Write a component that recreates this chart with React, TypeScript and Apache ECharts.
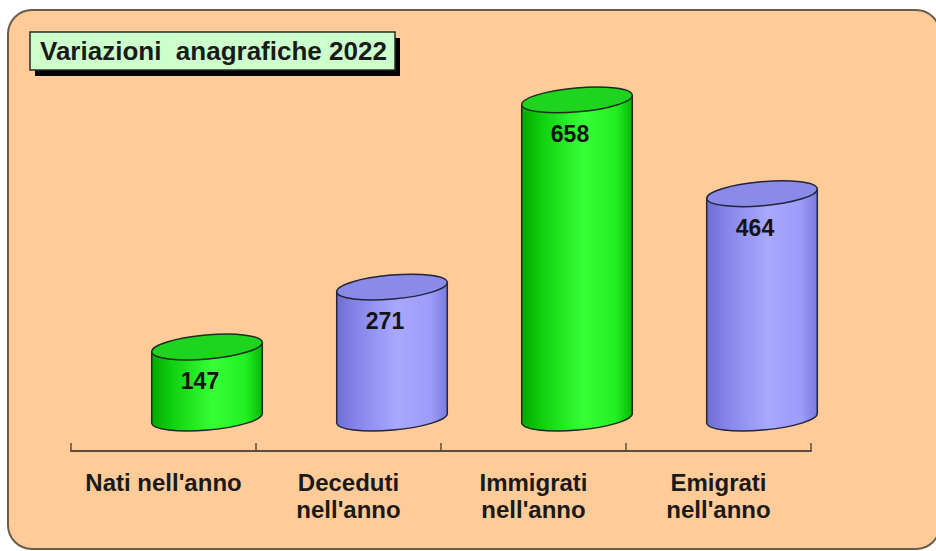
import React, { useEffect, useRef } from "react";
import * as echarts from "echarts";

const categories = ["Nati nell'anno", "Deceduti\nnell'anno", "Immigrati\nnell'anno", "Emigrati\nnell'anno"];
const values = [147, 271, 658, 464];
const kinds = ["green", "blue", "green", "blue"];
const titleText = "Variazioni  anagrafiche 2022";

const FONT = '"Liberation Sans", Arial, sans-serif';

const palettes: Record<string, { body: [number, string][]; top: string; stroke: string }> = {
  green: {
    body: [
      [0, "#00A800"],
      [0.18, "#10D010"],
      [0.55, "#36FF36"],
      [0.85, "#22F022"],
      [1, "#06B806"],
    ],
    top: "#1ED41E",
    stroke: "#1d2b1d",
  },
  blue: {
    body: [
      [0, "#6E6ED2"],
      [0.18, "#8686EA"],
      [0.55, "#A8A8FF"],
      [0.85, "#9C9CFA"],
      [1, "#7A7ADE"],
    ],
    top: "#8A8AE8",
    stroke: "#23233a",
  },
};

export default function App() {
  const ref = useRef<HTMLDivElement>(null);
  useEffect(() => {
    const chart = echarts.init(ref.current!, null, { renderer: "svg" });
    const OFFSET_X = 43.5;
    const RX = 55.5;
    const RY = 12;
    const TILT = (5 * Math.PI) / 180;

    const renderItem = (params: any, api: any) => {
      const i = api.value(0);
      const v = api.value(1);
      const top = api.coord([i, v]);
      const bot = api.coord([i, 0]);
      const cx = top[0] + OFFSET_X;
      const ty = top[1];
      const by = bot[1];
      const dx = RX * Math.cos(TILT);
      const dy = RX * Math.sin(TILT);
      const pal = palettes[kinds[i]];
      const grad = () =>
        new echarts.graphic.LinearGradient(
          0,
          0,
          1,
          0,
          pal.body.map(([o, c]) => ({ offset: o, color: c }))
        );
      return {
        type: "group",
        children: [
          {
            type: "ellipse",
            x: cx,
            y: by,
            rotation: TILT,
            shape: { cx: 0, cy: 0, rx: RX, ry: RY },
            style: { fill: grad(), stroke: pal.stroke, lineWidth: 1.5 },
          },
          {
            type: "polygon",
            shape: {
              points: [
                [cx - dx, ty + dy],
                [cx + dx, ty - dy],
                [cx + dx, by - dy],
                [cx - dx, by + dy],
              ],
            },
            style: { fill: grad() },
          },
          {
            type: "line",
            shape: { x1: cx - dx, y1: ty + dy, x2: cx - dx, y2: by + dy },
            style: { stroke: pal.stroke, lineWidth: 1.5 },
          },
          {
            type: "line",
            shape: { x1: cx + dx, y1: ty - dy, x2: cx + dx, y2: by - dy },
            style: { stroke: pal.stroke, lineWidth: 1.5 },
          },
          {
            type: "ellipse",
            x: cx,
            y: ty,
            rotation: TILT,
            shape: { cx: 0, cy: 0, rx: RX, ry: RY },
            style: { fill: pal.top, stroke: pal.stroke, lineWidth: 1.5 },
          },
          {
            type: "text",
            x: cx - 7,
            y: ty + 34,
            style: {
              text: String(v),
              fill: "#141414",
              font: `bold 23px ${FONT}`,
              align: "center",
              verticalAlign: "middle",
            },
          },
        ],
      };
    };

    chart.setOption({
      animation: false,
      backgroundColor: "#ffffff",
      graphic: [
        {
          type: "rect",
          z: -10,
          shape: { x: 8, y: 10, width: 932, height: 539, r: 24 },
          style: { fill: "#FFCC99", stroke: "#6a5c4a", lineWidth: 2 },
        },
        {
          type: "rect",
          z: 10,
          shape: { x: 35, y: 38, width: 365, height: 38 },
          style: { fill: "#000000" },
        },
        {
          type: "rect",
          z: 11,
          shape: { x: 30, y: 32, width: 365, height: 38 },
          style: { fill: "#CCFFCC", stroke: "#2a2a2a", lineWidth: 1.5 },
        },
        {
          type: "text",
          z: 12,
          x: 40,
          y: 51,
          style: {
            text: titleText,
            fill: "#1a1a1a",
            font: `bold 26px ${FONT}`,
            align: "left",
            verticalAlign: "middle",
          },
        },
      ],
      grid: { left: 71, right: 125, top: 79.6, bottom: 100 },
      xAxis: {
        type: "category",
        data: categories,
        boundaryGap: true,
        axisLine: { show: true, onZero: false, lineStyle: { color: "#5b4b3b", width: 2 } },
        axisTick: {
          show: true,
          inside: true,
          length: 8,
          interval: 0,
          alignWithLabel: false,
          lineStyle: { color: "#5b4b3b", width: 1.5 },
        },
        axisLabel: {
          interval: 0,
          margin: 17.5,
          color: "#1a1a1a",
          fontFamily: FONT,
          fontWeight: "bold",
          fontSize: 24,
          lineHeight: 27,
        },
      },
      yAxis: { type: "value", min: -68, max: 700, show: false },
      series: [
        {
          type: "custom",
          data: values.map((v, i) => [i, v]),
          renderItem,
          clip: false,
        },
      ],
    });
    return () => chart.dispose();
  }, []);
  return (
    <div
      ref={ref}
      style={{ position: "fixed", left: 0, top: 0, width: 936, height: 551 }}
    />
  );
}
